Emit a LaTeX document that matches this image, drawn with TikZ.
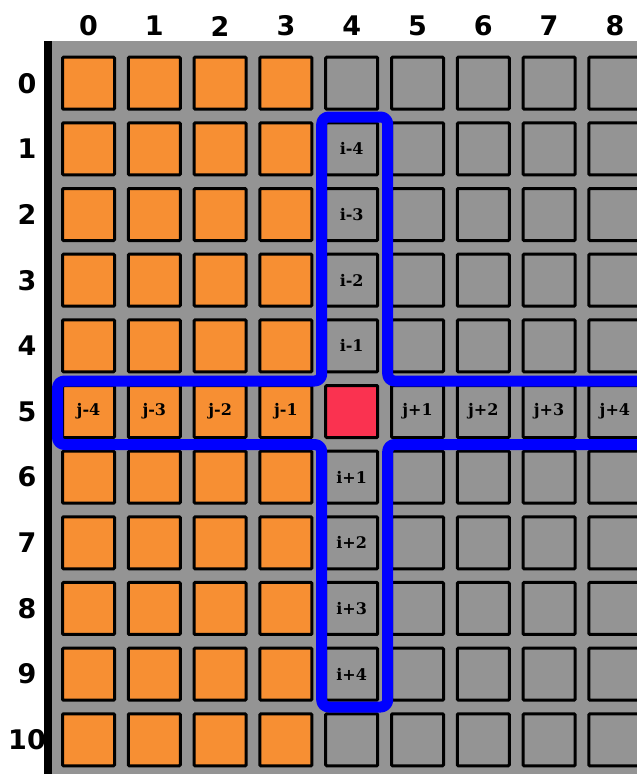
\documentclass[tikz,border=0pt]{standalone}
\usepackage{fontspec}
\newfontfamily\headfont{DejaVu Sans}
\newfontfamily\cellfont{DejaVu Serif}
\definecolor{bggray}{RGB}{148,148,148}
\definecolor{orangecell}{RGB}{247,143,51}
\definecolor{redcell}{RGB}{250,50,80}
\definecolor{crossblue}{RGB}{0,0,255}
\tikzset{
  cellbox/.style={draw=black, line width=3pt, rounded corners=1pt, minimum width=52pt, minimum height=52pt, inner sep=0pt},
  orangebox/.style={cellbox, fill=orangecell},
  graybox/.style={cellbox, fill=bggray},
  redbox/.style={cellbox, fill=redcell},
  celllabel/.style={font=\cellfont\bfseries\fontsize{16}{16}\selectfont, inner sep=0pt},
  headlabel/.style={font=\headfont\bfseries\fontsize{27}{27}\selectfont, inner sep=0pt},
  crossline/.style={draw=crossblue, line width=11pt, rounded corners=7pt, line join=round}
}
\begin{document}
\begin{tikzpicture}[x=1pt,y=-1pt]
\useasboundingbox (0,0) rectangle (637,774);
\begin{scope}
\clip (0,0) rectangle (637,774);
\fill[bggray] (52,41) rectangle (660,790);
\fill[black] (44,41) rectangle (52,790);
% cells
\foreach \r in {0,...,10}{
  \foreach \c in {0,...,8}{
    \pgfmathsetmacro{\cx}{88.5+65.8*\c}
    \pgfmathsetmacro{\cy}{83.2+65.66*\r}
    \ifnum\c<4
      \node[orangebox] (c\r-\c) at (\cx,\cy) {};
    \else
      \ifnum\c=4 \ifnum\r=5
        \node[redbox] (c\r-\c) at (\cx,\cy) {};
      \else
        \node[graybox] (c\r-\c) at (\cx,\cy) {};
      \fi
      \else
        \node[graybox] (c\r-\c) at (\cx,\cy) {};
      \fi
    \fi
  }
}
% labels in cells
\node[celllabel] (li1) at (c1-4) {i-4};
\node[celllabel] (li2) at (c2-4) {i-3};
\node[celllabel] (li3) at (c3-4) {i-2};
\node[celllabel] (li4) at (c4-4) {i-1};
\node[celllabel] (li6) at (c6-4) {i+1};
\node[celllabel] (li7) at (c7-4) {i+2};
\node[celllabel] (li8) at (c8-4) {i+3};
\node[celllabel] (li9) at (c9-4) {i+4};
\node[celllabel] (lj0) at (c5-0) {j-4};
\node[celllabel] (lj1) at (c5-1) {j-3};
\node[celllabel] (lj2) at (c5-2) {j-2};
\node[celllabel] (lj3) at (c5-3) {j-1};
\node[celllabel] (lj5) at (c5-5) {j+1};
\node[celllabel] (lj6) at (c5-6) {j+2};
\node[celllabel] (lj7) at (c5-7) {j+3};
\node[celllabel] (lj8) at (c5-8) {j+4};
% cross outline
\draw[crossline] (670,381) -- (387.7,381) -- (387.7,117) -- (321.7,117) -- (321.7,381) -- (57.5,381) -- (57.5,444.5) -- (321.7,444.5) -- (321.7,707) -- (387.7,707) -- (387.7,444.5) -- (670,444.5);
% headers
\foreach \c in {0,...,8}{
  \pgfmathsetmacro{\cx}{88.5+65.8*\c}
  \node[headlabel] (h\c) at (\cx,26) {\c};
}
\foreach \r in {0,...,10}{
  \pgfmathsetmacro{\cy}{83.2+65.66*\r}
  \node[headlabel] (v\r) at (27,\cy) {\r};
}
\end{scope}
\end{tikzpicture}
\end{document}
